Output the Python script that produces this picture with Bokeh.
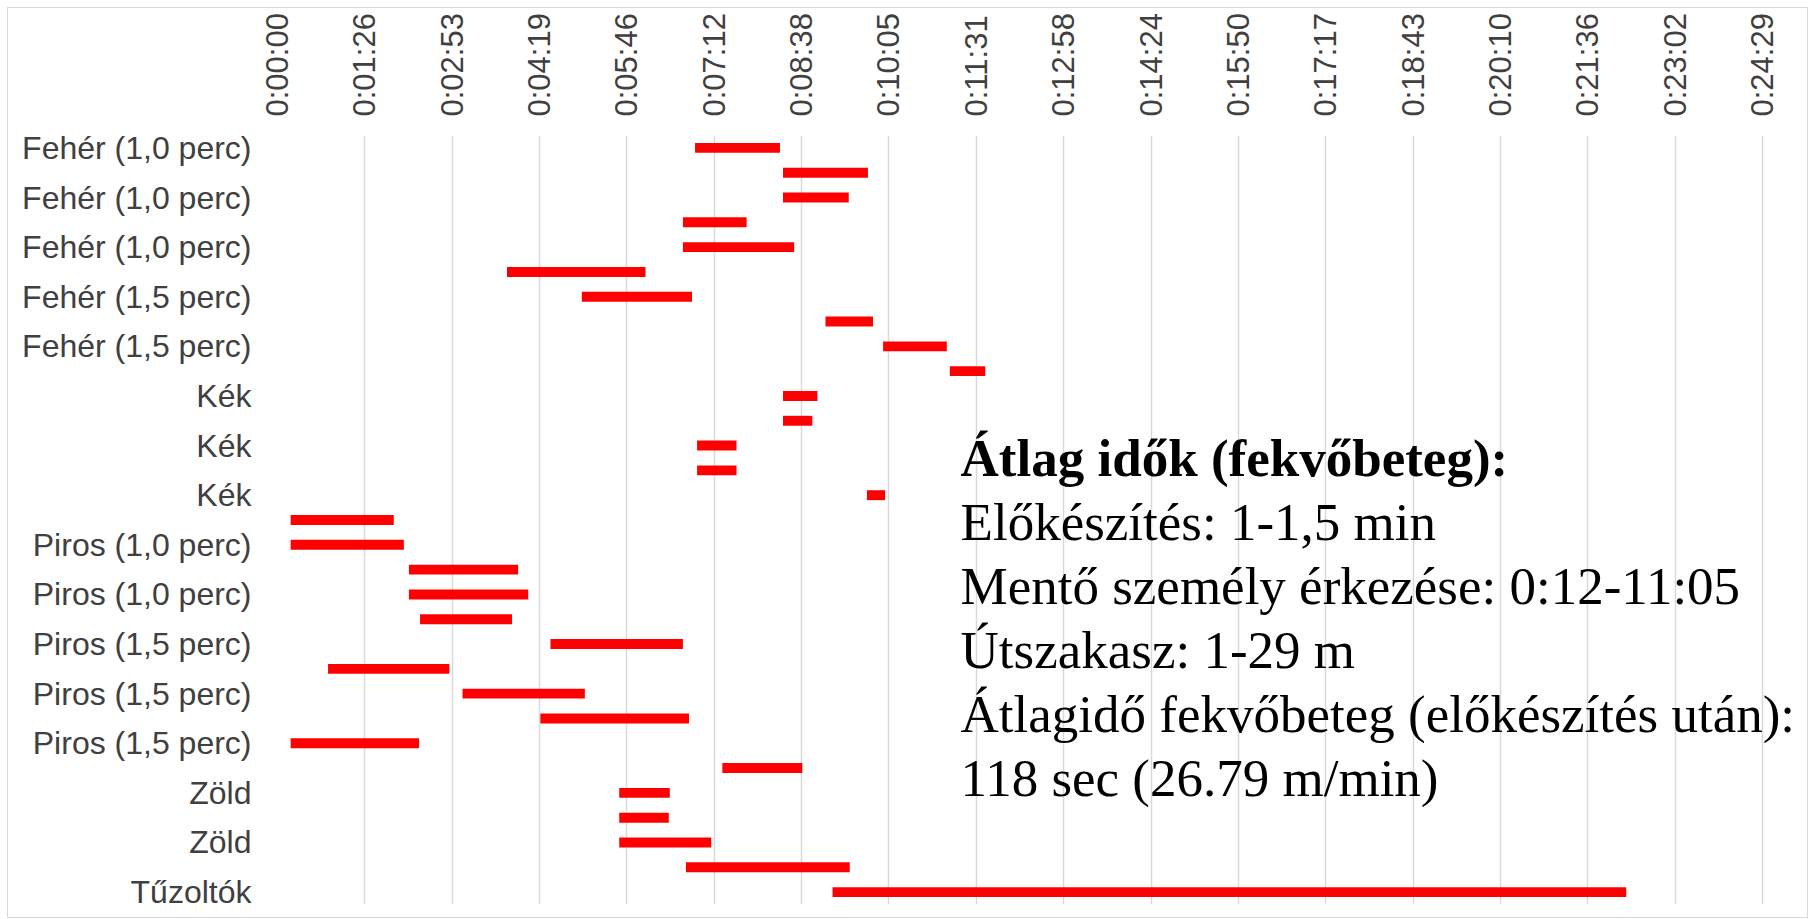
import math
from bokeh.plotting import figure
from bokeh.models import Range1d, FixedTicker, Label, ColumnDataSource
from bokeh.embed import file_html
from bokeh.resources import INLINE

# ---- data ----
row_labels = [
    "Fehér (1,0 perc)", "Fehér (1,0 perc)", "Fehér (1,0 perc)", "Fehér (1,0 perc)",
    "Fehér (1,0 perc)", "Fehér (1,5 perc)", "Fehér (1,5 perc)", "Fehér (1,5 perc)",
    "Fehér (1,5 perc)", "Fehér (1,5 perc)", "Kék", "Kék", "Kék", "Kék", "Kék",
    "Piros (1,0 perc)", "Piros (1,0 perc)", "Piros (1,0 perc)", "Piros (1,0 perc)",
    "Piros (1,5 perc)", "Piros (1,5 perc)", "Piros (1,5 perc)", "Piros (1,5 perc)",
    "Piros (1,5 perc)", "Piros (1,5 perc)", "Zöld", "Zöld", "Zöld", "Zöld", "Zöld",
    "Tűzoltók",
]
# start / end of each bar, seconds
start_sec = [413, 500, 500, 401, 401, 227, 301, 542, 599, 665, 500, 500, 415, 415, 583,
             13, 13, 130, 130, 141, 270, 50, 183, 260, 13, 440, 338, 338, 338, 404, 549]
end_sec = [497, 584, 565, 464, 511, 364, 410, 589, 662, 700, 534, 529, 454, 454, 601,
           115, 125, 238, 248, 232, 401, 170, 304, 407, 140, 519, 388, 387, 429, 566, 1334]
time_tick_labels = ["0:00:00", "0:01:26", "0:02:53", "0:04:19", "0:05:46", "0:07:12",
                    "0:08:38", "0:10:05", "0:11:31", "0:12:58", "0:14:24", "0:15:50",
                    "0:17:17", "0:18:43", "0:20:10", "0:21:36", "0:23:02", "0:24:29"]
note_title = "Átlag idők (fekvőbeteg):"
note_lines = [
    "Előkészítés: 1-1,5 min",
    "Mentő személy érkezése: 0:12-11:05",
    "Útszakasz: 1-29 m",
    "Átlagidő fekvőbeteg (előkészítés után):",
    "118 sec (26.79 m/min)",
]

UNIT = 86.4  # seconds per major tick (0.001 day)
n = len(row_labels)
n_ticks = len(time_tick_labels) - 1
src = ColumnDataSource(dict(
    y=list(range(n)),
    left=[s / UNIT for s in start_sec],
    right=[e / UNIT for e in end_sec],
))

TXT = "#404040"
TICK_PX = 1485 / n_ticks
EXTRA_RIGHT = 45
p = figure(
    frame_width=1485 + EXTRA_RIGHT, frame_height=769,
    min_border_left=269, min_border_right=0, min_border_top=127, min_border_bottom=13,
    x_range=Range1d(0, n_ticks + EXTRA_RIGHT / TICK_PX),
    y_range=Range1d(n - 0.5, -0.5),
    x_axis_location="above",
    output_backend="svg", toolbar_location=None,
)
p.outline_line_color = None
p.background_fill_color = "white"
p.border_fill_color = "white"
p.styles = {"border": "1px solid #d9d9d9", "margin-left": "7px", "margin-top": "7px"}

p.hbar(y="y", left="left", right="right", height=0.4, source=src,
       fill_color="#ff0000", line_color=None)

xa = p.xaxis[0]
xa.ticker = FixedTicker(ticks=list(range(len(time_tick_labels))))
xa.major_label_overrides = {i: t for i, t in enumerate(time_tick_labels)}
xa.major_label_orientation = math.pi / 2
xa.axis_line_color = None
xa.major_tick_line_color = None
xa.minor_tick_line_color = None
xa.major_label_standoff = 13
xa.major_label_text_font = "Liberation Sans"
xa.major_label_text_font_size = "31px"
xa.major_label_text_color = TXT

ya = p.yaxis[0]
ya.ticker = FixedTicker(ticks=list(range(0, n, 2)))
ya.major_label_overrides = {i: row_labels[i] for i in range(0, n, 2)}
ya.axis_line_color = None
ya.major_tick_line_color = None
ya.minor_tick_line_color = None
ya.major_label_standoff = 20
ya.major_label_text_font = "Liberation Sans"
ya.major_label_text_font_size = "32px"
ya.major_label_text_color = TXT

p.xgrid.grid_line_color = "#d9d9d9"
p.xgrid.grid_line_width = 1.5
p.ygrid.grid_line_color = None

note_x = 7.82
note_y0 = 12.51
note_step = 2.58
p.add_layout(Label(x=note_x, y=note_y0, text=note_title, text_font="Liberation Serif",
                   text_font_size="53px", text_font_style="bold", text_color="black",
                   text_baseline="alphabetic"))
for i, line in enumerate(note_lines):
    p.add_layout(Label(x=note_x, y=note_y0 + (i + 1) * note_step, text=line,
                       text_font="Liberation Serif", text_font_size="53px",
                       text_color="black", text_baseline="alphabetic"))

open("out.html", "w").write(file_html(p, INLINE))
